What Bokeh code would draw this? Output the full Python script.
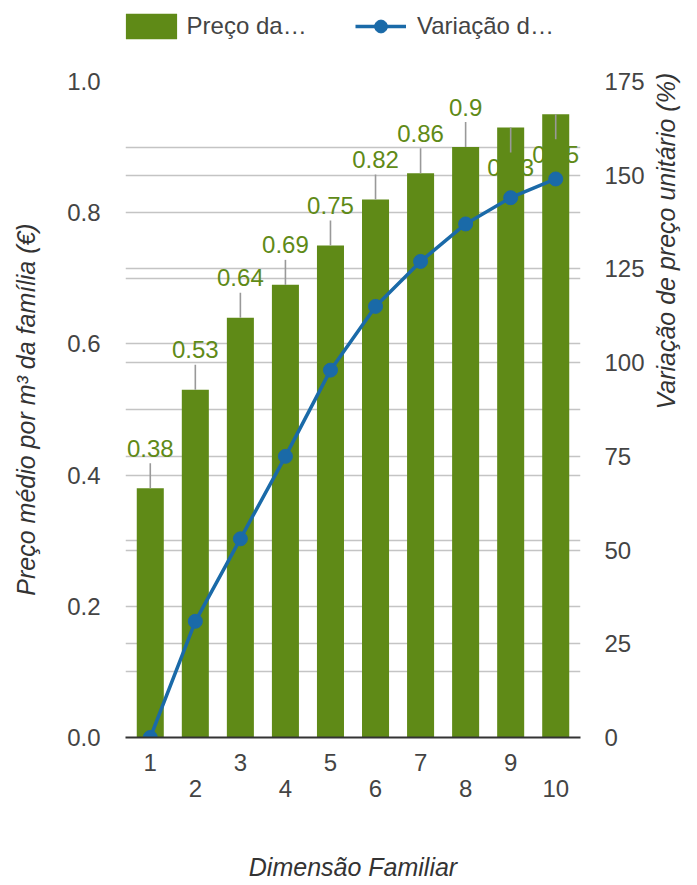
import math
from bokeh.plotting import figure
from bokeh.layouts import column
from bokeh.models import (Range1d, LinearAxis, FixedTicker, Grid, Legend, LegendItem,
                          PrintfTickFormatter)
from bokeh.core.properties import value
from bokeh.embed import file_html
from bokeh.resources import INLINE

# ---- data ----
dimensao = [1, 2, 3, 4, 5, 6, 7, 8, 9, 10]
preco = [0.38, 0.53, 0.64, 0.69, 0.75, 0.82, 0.86, 0.90, 0.93, 0.95]
preco_labels = ["0.38", "0.53", "0.64", "0.69", "0.75", "0.82", "0.86", "0.9", "0.93", "0.95"]
variacao = [0, 31, 53, 75, 98, 115, 127, 137, 144, 149]
left_ticks = [0.0, 0.2, 0.4, 0.6, 0.8, 1.0]
left_minor = [0.1, 0.3, 0.5, 0.7, 0.9]
right_ticks = [0, 25, 50, 75, 100, 125, 150, 175]
odd_ticks = [1, 3, 5, 7, 9]
even_ticks = [2, 4, 6, 8, 10]
legend_labels = ["Preço da…", "Variação d…"]

# ---- styles ----
FONT = "Liberation Sans"
BAR = "#5F8A17"
LINE = "#1A6AA8"
GRID = "#C4C4C4"
TICK = "#444444"
TITLE = "#333333"

FRAME_H = 656
PX = 1.0 / FRAME_H  # data units per pixel on the left axis
LEG_H = 61

# ---------- legend strip (own small figure; its view ranges show none of the data) ----------
p0 = figure(width=697, height=LEG_H, x_range=Range1d(1000, 2000), y_range=Range1d(1000, 2000),
            x_axis_type=None, y_axis_type=None, output_backend="svg", toolbar_location=None,
            min_border=0)
p0.outline_line_color = None
p0.border_fill_color = "white"
lb = p0.vbar(x=dimensao, top=preco, width=0.6, fill_color=BAR, line_color=None)
ll = p0.line(x=dimensao, y=variacao, line_color=LINE, line_width=3.5)
lp = p0.scatter(x=dimensao, y=variacao, size=14, fill_color=LINE, line_color=LINE)

def style_legend(lg):
    lg.padding = 0
    lg.margin = 0
    lg.border_line_color = None
    lg.background_fill_alpha = 0
    lg.orientation = "horizontal"
    lg.label_text_font = FONT
    lg.label_text_font_size = "24px"
    lg.label_text_color = TICK
    lg.glyph_height = 32

lg1 = Legend(items=[LegendItem(label=legend_labels[0], renderers=[lb])], location=(-6.4, 19.2))
style_legend(lg1)
lg1.glyph_width = 64
lg1.label_standoff = 4
p0.add_layout(lg1)

lg2 = Legend(items=[LegendItem(label=legend_labels[1], renderers=[ll, lp])], location=(230, 19.2))
style_legend(lg2)
lg2.glyph_width = 51
lg2.label_standoff = 11
p0.add_layout(lg2)

# ---------- main chart ----------
p = figure(width=697, height=885 - LEG_H, x_range=Range1d(0.45, 10.55), y_range=Range1d(0, 1.0),
           x_axis_type=None, y_axis_type=None, output_backend="svg", toolbar_location=None,
           min_border_left=125, min_border_right=117, min_border_top=81 - LEG_H,
           min_border_bottom=148)
p.outline_line_color = None
p.extra_y_ranges = {"right": Range1d(0, 175)}

# grids
g1 = Grid(dimension=1, ticker=FixedTicker(ticks=left_ticks, minor_ticks=left_minor),
          grid_line_color=GRID, grid_line_width=1.6,
          minor_grid_line_color=GRID, minor_grid_line_width=1.6)
p.add_layout(g1)
g2 = Grid(dimension=1, ticker=FixedTicker(ticks=right_ticks), y_range_name="right",
          grid_line_color=GRID, grid_line_width=1.6)
p.add_layout(g2)

# axes
def style_axis(ax):
    ax.major_tick_out = 0
    ax.major_tick_in = 0
    ax.minor_tick_out = 0
    ax.minor_tick_in = 0
    ax.major_label_text_font = FONT
    ax.major_label_text_font_size = "24px"
    ax.major_label_text_color = TICK
    ax.axis_label_text_font = FONT
    ax.axis_label_text_font_size = "25px"
    ax.axis_label_text_font_style = "italic"
    ax.axis_label_text_color = TITLE

yl = LinearAxis(ticker=FixedTicker(ticks=left_ticks), formatter=PrintfTickFormatter(format="%.1f"),
                axis_label="Preço médio por m³ da família (€)")
style_axis(yl)
yl.axis_line_color = None
yl.major_label_standoff = 25
yl.axis_label_standoff = 24
p.add_layout(yl, "left")

yr = LinearAxis(y_range_name="right", ticker=FixedTicker(ticks=right_ticks),
                axis_label="Variação de preço unitário (%)")
style_axis(yr)
yr.axis_line_color = None
yr.major_label_standoff = 24
yr.axis_label_standoff = 18
try:
    yr.axis_label_orientation = math.pi / 2
except Exception:
    pass
p.add_layout(yr, "right")

x1 = LinearAxis(ticker=FixedTicker(ticks=odd_ticks))
style_axis(x1)
x1.axis_line_color = "#333333"
x1.axis_line_width = 2
x1.major_label_standoff = 16
p.add_layout(x1, "below")

x2 = LinearAxis(ticker=FixedTicker(ticks=even_ticks), axis_label="Dimensão Familiar")
style_axis(x2)
x2.axis_line_color = None
x2.major_label_standoff = 6
x2.axis_label_standoff = 53
p.add_layout(x2, "below")

# bars
bars = p.vbar(x=dimensao, top=preco, width=0.6, fill_color=BAR, line_color=None)

# annotation stems and labels
STEM = 25 * PX
OFF = 40 * PX
HALF_TXT = 12 * PX
stem_top, lab_y = [], []
for v in preco:
    if v + OFF + HALF_TXT <= 1.0:
        stem_top.append(v + STEM)
        lab_y.append(v + OFF)
    else:
        stem_top.append(v - STEM)
        lab_y.append(v - OFF)
p.segment(x0=dimensao, y0=preco, x1=dimensao, y1=stem_top, line_color="#999999", line_width=1.6)
p.text(x=dimensao, y=lab_y, text=preco_labels, text_align="center", text_baseline="middle",
       text_font=value(FONT), text_font_size="24px", text_color=BAR)

# line series
ln = p.line(x=dimensao, y=variacao, y_range_name="right", line_color=LINE, line_width=3.5)
pts = p.scatter(x=dimensao, y=variacao, y_range_name="right", size=14,
                fill_color=LINE, line_color=LINE)

layout = column(p0, p, spacing=0)
open("out.html", "w").write(file_html(layout, INLINE))
